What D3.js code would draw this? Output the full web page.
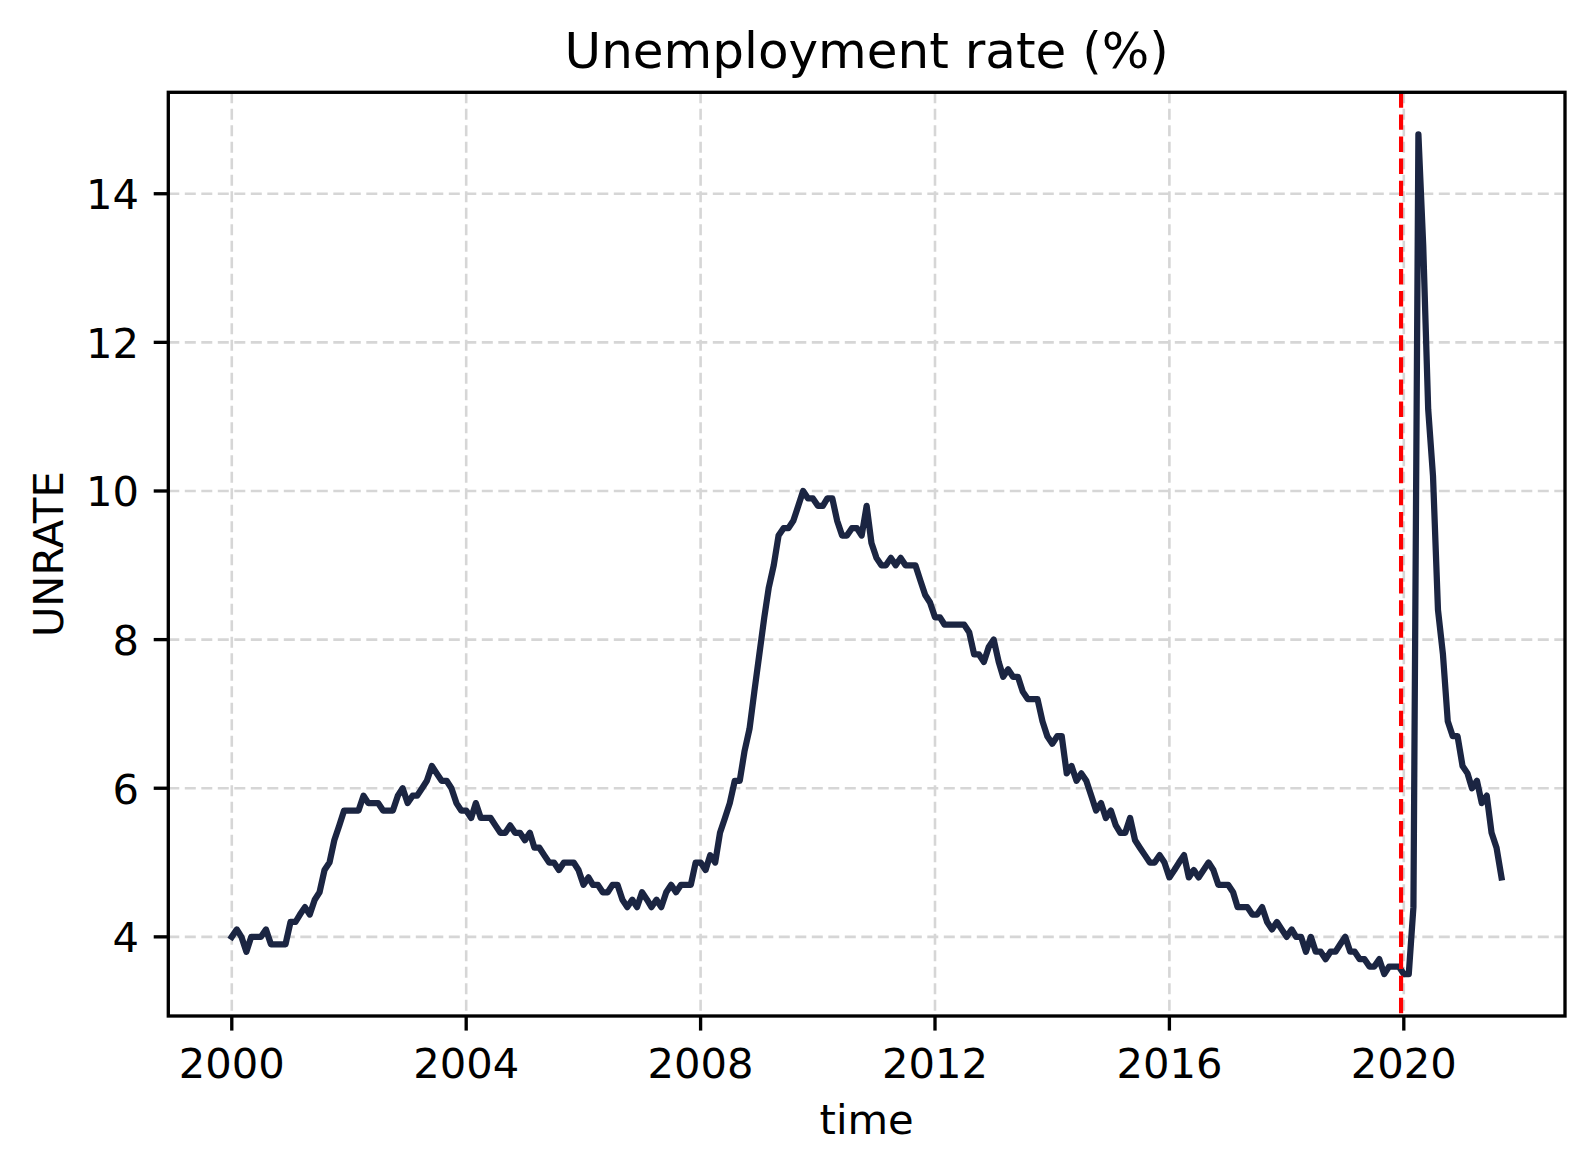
<!DOCTYPE html>
<html>
<head>
<meta charset="utf-8">
<title>Unemployment rate</title>
<style>
  body { margin: 0; background: #fff; }
  text { font-family: "DejaVu Sans", sans-serif; fill: #000; }
</style>
</head>
<body>
<div id="chart"></div>
<script src="https://cdn.jsdelivr.net/npm/d3@7"></script>
<script>
// monthly UNRATE, starting at firstMonth
var firstMonth = "2000-01-01";
var unrate = [
  4.0, 4.1, 4.0, 3.8, 4.0, 4.0, 4.0, 4.1, 3.9, 3.9, 3.9, 3.9,   // 2000
  4.2, 4.2, 4.3, 4.4, 4.3, 4.5, 4.6, 4.9, 5.0, 5.3, 5.5, 5.7,   // 2001
  5.7, 5.7, 5.7, 5.9, 5.8, 5.8, 5.8, 5.7, 5.7, 5.7, 5.9, 6.0,   // 2002
  5.8, 5.9, 5.9, 6.0, 6.1, 6.3, 6.2, 6.1, 6.1, 6.0, 5.8, 5.7,   // 2003
  5.7, 5.6, 5.8, 5.6, 5.6, 5.6, 5.5, 5.4, 5.4, 5.5, 5.4, 5.4,   // 2004
  5.3, 5.4, 5.2, 5.2, 5.1, 5.0, 5.0, 4.9, 5.0, 5.0, 5.0, 4.9,   // 2005
  4.7, 4.8, 4.7, 4.7, 4.6, 4.6, 4.7, 4.7, 4.5, 4.4, 4.5, 4.4,   // 2006
  4.6, 4.5, 4.4, 4.5, 4.4, 4.6, 4.7, 4.6, 4.7, 4.7, 4.7, 5.0,   // 2007
  5.0, 4.9, 5.1, 5.0, 5.4, 5.6, 5.8, 6.1, 6.1, 6.5, 6.8, 7.3,   // 2008
  7.8, 8.3, 8.7, 9.0, 9.4, 9.5, 9.5, 9.6, 9.8, 10.0, 9.9, 9.9,  // 2009
  9.8, 9.8, 9.9, 9.9, 9.6, 9.4, 9.4, 9.5, 9.5, 9.4, 9.8, 9.3,   // 2010
  9.1, 9.0, 9.0, 9.1, 9.0, 9.1, 9.0, 9.0, 9.0, 8.8, 8.6, 8.5,   // 2011
  8.3, 8.3, 8.2, 8.2, 8.2, 8.2, 8.2, 8.1, 7.8, 7.8, 7.7, 7.9,   // 2012
  8.0, 7.7, 7.5, 7.6, 7.5, 7.5, 7.3, 7.2, 7.2, 7.2, 6.9, 6.7,   // 2013
  6.6, 6.7, 6.7, 6.2, 6.3, 6.1, 6.2, 6.1, 5.9, 5.7, 5.8, 5.6,   // 2014
  5.7, 5.5, 5.4, 5.4, 5.6, 5.3, 5.2, 5.1, 5.0, 5.0, 5.1, 5.0,   // 2015
  4.8, 4.9, 5.0, 5.1, 4.8, 4.9, 4.8, 4.9, 5.0, 4.9, 4.7, 4.7,   // 2016
  4.7, 4.6, 4.4, 4.4, 4.4, 4.3, 4.3, 4.4, 4.2, 4.1, 4.2, 4.1,   // 2017
  4.0, 4.1, 4.0, 4.0, 3.8, 4.0, 3.8, 3.8, 3.7, 3.8, 3.8, 3.9,   // 2018
  4.0, 3.8, 3.8, 3.7, 3.7, 3.6, 3.6, 3.7, 3.5, 3.6, 3.6, 3.6,   // 2019
  3.5, 3.5, 4.4, 14.8, 13.3, 11.1, 10.2, 8.4, 7.8, 6.9, 6.7, 6.7, // 2020
  6.3, 6.2, 6.0, 6.1, 5.8, 5.9, 5.4, 5.2, 4.8                   // 2021
];
var markerDate = "2019-12-15";
var xTickYears = [2000, 2004, 2008, 2012, 2016, 2020];
var yTicks = [4, 6, 8, 10, 12, 14];

var W = 1593, H = 1172;
var mLeft = 168.3, mRight = 1565, mTop = 92.3, mBottom = 1016;
var dpi = 300 / 72;            // px per pt
var tickLen = 3.5 * dpi, tickPad = 3.5 * dpi, spineW = 0.8 * dpi;

var parse = d3.timeParse("%Y-%m-%d");
var start = parse(firstMonth);
var data = unrate.map(function(v, i) {
  return { date: d3.timeMonth.offset(start, i), value: v };
});

// 5% padding on both axes like matplotlib autoscale
var tExt = d3.extent(data, d => +d.date);
var tPad = (tExt[1] - tExt[0]) * 0.05;
var vExt = d3.extent(data, d => d.value);
var vPad = (vExt[1] - vExt[0]) * 0.05;

var x = d3.scaleTime()
  .domain([new Date(tExt[0] - tPad), new Date(tExt[1] + tPad)])
  .range([mLeft, mRight]);
var y = d3.scaleLinear()
  .domain([vExt[0] - vPad, vExt[1] + vPad])
  .range([mBottom, mTop]);

var xTicks = xTickYears.map(yr => new Date(yr, 0, 1));

var svg = d3.select("#chart").append("svg")
  .attr("width", W)
  .attr("height", H);

// grid
var grid = svg.append("g")
  .attr("stroke", "#d6d6d6")
  .attr("stroke-width", 2.6)
  .attr("stroke-dasharray", "11,5.5");
grid.selectAll(".gx").data(xTicks).enter().append("line")
  .attr("x1", d => x(d)).attr("x2", d => x(d))
  .attr("y1", mTop).attr("y2", mBottom);
grid.selectAll(".gy").data(yTicks).enter().append("line")
  .attr("y1", d => y(d)).attr("y2", d => y(d))
  .attr("x1", mLeft).attr("x2", mRight);

// series
var line = d3.line()
  .x(d => x(d.date))
  .y(d => y(d.value));

svg.append("path")
  .datum(data)
  .attr("d", line)
  .attr("fill", "none")
  .attr("stroke", "#1b2542")
  .attr("stroke-width", 1.5 * dpi)
  .attr("stroke-linejoin", "round")
  .attr("stroke-linecap", "square");

// covid marker
var md = parse(markerDate);
svg.append("line")
  .attr("x1", x(md)).attr("x2", x(md))
  .attr("y1", mTop).attr("y2", mBottom)
  .attr("stroke", "red")
  .attr("stroke-width", 1 * dpi)
  .attr("stroke-dasharray", (3.7 * dpi) + "," + (1.6 * dpi));

// spines
svg.append("rect")
  .attr("x", mLeft).attr("y", mTop)
  .attr("width", mRight - mLeft).attr("height", mBottom - mTop)
  .attr("fill", "none")
  .attr("stroke", "#000")
  .attr("stroke-width", spineW);

// x ticks
var fmtYear = d3.timeFormat("%Y");
var xt = svg.append("g").selectAll("g").data(xTicks).enter().append("g");
xt.append("line")
  .attr("x1", d => x(d)).attr("x2", d => x(d))
  .attr("y1", mBottom).attr("y2", mBottom + tickLen)
  .attr("stroke", "#000").attr("stroke-width", spineW);
xt.append("text")
  .attr("x", d => x(d))
  .attr("y", mBottom + tickLen + tickPad + 33)
  .attr("text-anchor", "middle")
  .style("font-size", (10 * dpi) + "px")
  .text(d => fmtYear(d));

// y ticks
var yt = svg.append("g").selectAll("g").data(yTicks).enter().append("g");
yt.append("line")
  .attr("y1", d => y(d)).attr("y2", d => y(d))
  .attr("x1", mLeft - tickLen).attr("x2", mLeft)
  .attr("stroke", "#000").attr("stroke-width", spineW);
yt.append("text")
  .attr("x", mLeft - tickLen - tickPad)
  .attr("y", d => y(d) + 15.5)
  .attr("text-anchor", "end")
  .style("font-size", (10 * dpi) + "px")
  .text(d => d);

// labels
svg.append("text")
  .attr("x", (mLeft + mRight) / 2)
  .attr("y", 67.5)
  .attr("text-anchor", "middle")
  .style("font-size", (12 * dpi) + "px")
  .text("Unemployment rate (%)");

svg.append("text")
  .attr("x", (mLeft + mRight) / 2)
  .attr("y", 1134)
  .attr("text-anchor", "middle")
  .style("font-size", (10 * dpi) + "px")
  .text("time");

svg.append("text")
  .attr("transform", "translate(63.3," + ((mTop + mBottom) / 2) + ") rotate(-90)")
  .attr("text-anchor", "middle")
  .style("font-size", (10 * dpi) + "px")
  .text("UNRATE");
</script>
</body>
</html>
